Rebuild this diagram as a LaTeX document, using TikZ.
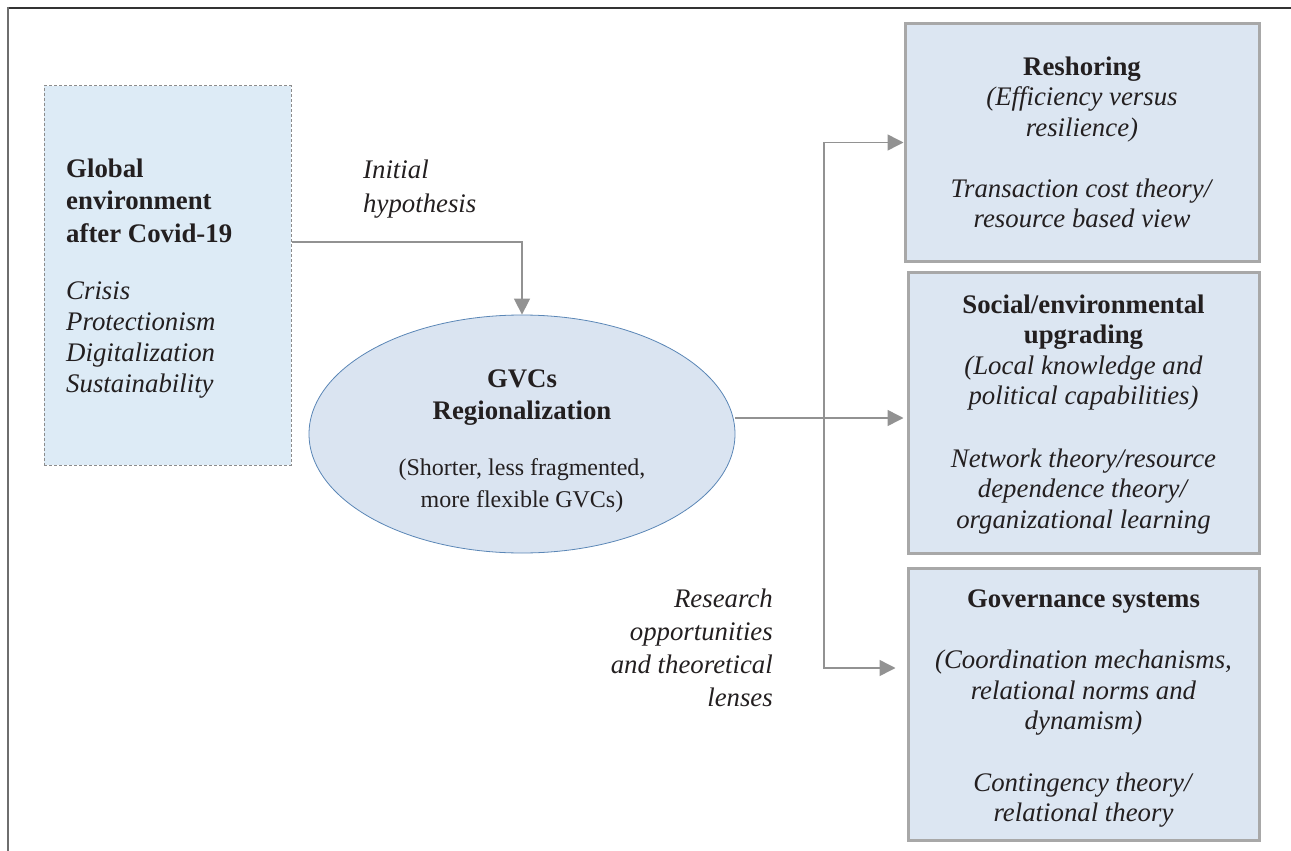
\documentclass[tikz,border=0pt]{standalone}
\usepackage{fontspec}
\setmainfont{Liberation Serif}
\usetikzlibrary{arrows.meta,calc,shapes.geometric}
\definecolor{inkc}{HTML}{231F20}
\definecolor{envfill}{HTML}{DDEBF6}
\definecolor{dashc}{HTML}{8C8C8C}
\definecolor{ellfill}{HTML}{DAE4F1}
\definecolor{elldraw}{HTML}{5A86B6}
\definecolor{boxfill}{HTML}{DCE6F2}
\definecolor{boxdraw}{HTML}{A8A8A8}
\definecolor{arrc}{HTML}{929292}
\definecolor{framedark}{HTML}{333333}
\definecolor{framegray}{HTML}{6E6E6E}
\tikzset{
  txt/.style={inner sep=0pt, text=inkc, font=\fontsize{26.8}{30.5}\selectfont},
  envbox/.style={draw=dashc, dash pattern=on 3pt off 2pt, line width=1pt, fill=envfill, inner sep=0pt, minimum width=247pt, minimum height=379pt},
  ellnode/.style={ellipse, draw=elldraw, line width=0.8pt, fill=ellfill, inner sep=0pt, minimum width=426pt, minimum height=238pt},
  topicbox/.style={draw=boxdraw, line width=3pt, fill=boxfill, inner sep=0pt},
  conn/.style={draw=arrc, line width=1.5pt, -{Triangle[length=16pt,width=16pt]}},
}
\newcommand{\fs}{\rule{0pt}{22pt}}
\begin{document}
\begin{tikzpicture}[x=1pt,y=-1pt]
\useasboundingbox (0,0) rectangle (1291,851);
% frame
\draw[framedark, line width=2pt] (8,8) -- (1291,8);
\draw[framegray, line width=2.5pt] (8,7) -- (8,851);

% left box
\node[envbox] (env) at (167.5,275.5) {};
\node[txt, anchor=north west, align=left] (envtxt) at (66,155)
  {\fs\textbf{Global}\\[1.5pt]
   \textbf{environment}\\[3pt]
   \textbf{after Covid-19}\\[26pt]
   \textit{Crisis}\\[0.5pt]
   \textit{Protectionism}\\[0.5pt]
   \textit{Digitalization}\\[0.5pt]
   \textit{Sustainability}};

% ellipse
\node[ellnode] (gvc) at (522,434) {};
\node[txt, anchor=north, align=center, font=\fontsize{26.8}{32}\selectfont] (gvctxt) at (522,365)
  {\fs\textbf{GVCs}\\
   \textbf{Regionalization}\\[24pt]
   {\fontsize{24}{32}\selectfont (Shorter, less fragmented,}\\
   {\fontsize{24}{32}\selectfont more flexible GVCs)}};

% labels
\node[txt, anchor=north west, align=left, font=\fontsize{26.8}{34}\selectfont] (hypo) at (363,156)
  {\fs\textit{Initial}\\ \textit{hypothesis}};
\node[txt, anchor=north east, align=right, font=\fontsize{26.8}{33}\selectfont] (lens) at (773,585)
  {\fs\textit{Research}\\ \textit{opportunities}\\ \textit{and theoretical}\\ \textit{lenses}};

% right boxes
\node[topicbox, minimum width=354pt, minimum height=237pt] (box1) at (1082,142.5) {};
\node[topicbox, minimum width=351pt, minimum height=281pt] (box2) at (1083.5,412.5) {};
\node[topicbox, minimum width=351pt, minimum height=272pt] (box3) at (1083.5,704) {};

\node[txt, anchor=north, align=center] (box1txt) at (1082,53)
  {\fs\textbf{Reshoring}\\
   \textit{(Efficiency versus}\\
   \textit{resilience)}\\[30.5pt]
   \textit{Transaction cost theory/}\\
   \textit{resource based view}};
\node[txt, anchor=north, align=center] (box2txt) at (1083.5,291)
  {\fs\textbf{Social/environmental}\\
   \textbf{upgrading}\\
   \textit{(Local knowledge and}\\
   \textit{political capabilities)}\\[32pt]
   \textit{Network theory/resource}\\
   \textit{dependence theory/}\\
   \textit{organizational learning}};
\node[txt, anchor=north, align=center] (box3txt) at (1083.5,585)
  {\fs\textbf{Governance systems}\\[31pt]
   \textit{(Coordination mechanisms,}\\
   \textit{relational norms and}\\
   \textit{dynamism)}\\[31pt]
   \textit{Contingency theory/}\\
   \textit{relational theory}};

% connectors
\draw[conn] (env.east) ++(0,-33.5) -| (gvc.north);
\coordinate (mid) at ([yshift=16pt]gvc.east);
\coordinate (bus) at (824,418);
\coordinate (b3in) at ([yshift=36pt]box3.west);
\draw[conn, shorten >=3pt] (mid) -- (mid -| box2.west);
\draw[conn] (bus) |- (box1.west);
\draw[conn, shorten >=11pt] (bus) |- (b3in);
\end{tikzpicture}
\end{document}
